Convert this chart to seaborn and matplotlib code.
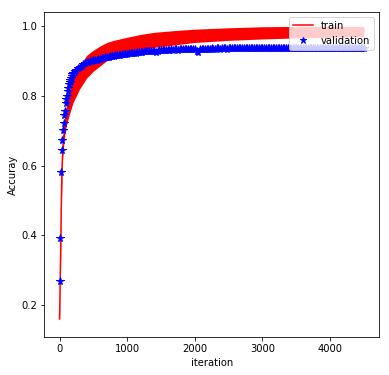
import matplotlib
matplotlib.use("Agg")
import matplotlib.pyplot as plt
from matplotlib.lines import Line2D
import seaborn as sns
import pandas as pd

# ---- data ----
# training accuracy: noisy band, lower / upper envelope at knots
train_iter = [0, 5, 10, 15, 20, 25, 30, 35, 40, 50, 60, 80, 100, 130, 160, 200,
              250, 300, 400, 500, 600, 700, 800, 1000, 1200, 1400, 1700, 2000,
              2500, 3000, 3500, 4000, 4500]
train_lo = [0.152, 0.19, 0.25, 0.31, 0.37, 0.44, 0.50, 0.55, 0.59, 0.63, 0.655,
            0.69, 0.715, 0.735, 0.755, 0.78, 0.80, 0.82, 0.85, 0.87, 0.885,
            0.90, 0.905, 0.915, 0.93, 0.938, 0.945, 0.952, 0.958, 0.962,
            0.965, 0.967, 0.969]
train_hi = [0.17, 0.23, 0.30, 0.36, 0.42, 0.50, 0.56, 0.60, 0.63, 0.67, 0.70,
            0.74, 0.77, 0.80, 0.825, 0.85, 0.87, 0.885, 0.915, 0.93, 0.942,
            0.952, 0.958, 0.967, 0.975, 0.981, 0.986, 0.990, 0.994, 0.997,
            0.998, 0.998, 0.998]

# validation accuracy (stars)
val_iter = list(range(0, 201, 10)) + list(range(225, 4501, 25))
val_acc = [0.269, 0.393, 0.582, 0.645, 0.673, 0.702, 0.723, 0.745, 0.757, 0.778,
           0.790, 0.800, 0.812, 0.822, 0.832, 0.840, 0.846, 0.851, 0.856, 0.861,
           0.866,
           0.870, 0.874, 0.878, 0.882,
           0.886, 0.889, 0.892, 0.895,
           0.897, 0.898, 0.900, 0.901,
           0.902, 0.903, 0.904, 0.905,
           0.907, 0.908, 0.909, 0.910,
           0.911, 0.912, 0.913, 0.914,
           0.915, 0.916, 0.916, 0.917,
           0.918, 0.919, 0.919, 0.920,
           0.921, 0.922, 0.922, 0.923,
           0.923, 0.924, 0.925, 0.925,
           0.926, 0.927, 0.927, 0.927,
           0.928, 0.928, 0.929, 0.929,
           0.925, 0.929, 0.930, 0.930,
           0.930, 0.931, 0.931, 0.931,
           0.931, 0.932, 0.931, 0.932,
           0.932, 0.931, 0.932, 0.932,
           0.933, 0.932, 0.933, 0.933,
           0.932, 0.933, 0.933, 0.933,
           0.928, 0.926, 0.933, 0.933,
           0.934, 0.933, 0.934, 0.934,
           0.934, 0.935, 0.934, 0.934,
           0.935, 0.935, 0.934, 0.935,
           0.935, 0.935, 0.934, 0.935,
           0.935, 0.936, 0.935, 0.936,
           0.935, 0.936, 0.936, 0.935,
           0.936, 0.935, 0.936, 0.936,
           0.935, 0.936, 0.936, 0.936,
           0.936, 0.935, 0.936, 0.936,
           0.936, 0.936, 0.935, 0.936,
           0.936, 0.937, 0.936, 0.936,
           0.935, 0.936, 0.936, 0.937,
           0.936, 0.936, 0.937, 0.936,
           0.936, 0.937, 0.936, 0.936,
           0.937, 0.936, 0.936, 0.935,
           0.936, 0.937, 0.936, 0.936,
           0.937, 0.936, 0.937, 0.936,
           0.936, 0.937, 0.936, 0.937,
           0.936, 0.936, 0.937, 0.936,
           0.937, 0.936, 0.936, 0.937,
           0.936, 0.937, 0.936, 0.936,
           0.937, 0.936, 0.937, 0.936,
           0.936, 0.937, 0.936, 0.936,
           0.935, 0.936, 0.937, 0.936]

xticks = [0, 1000, 2000, 3000, 4000]
yticks = [0.2, 0.4, 0.6, 0.8, 1.0]

# ---- long-form tables ----
train_df = pd.DataFrame({
    "iteration": train_iter + train_iter,
    "acc": train_lo + train_hi,
})
n = min(len(val_iter), len(val_acc))
val_df = pd.DataFrame({"iteration": val_iter[:n], "acc": val_acc[:n]})

plt.rcParams["font.family"] = ["DejaVu Sans"]
plt.rcParams["font.size"] = 10

fig = plt.figure(figsize=(389 / 72, 375 / 72), dpi=72)
ax = fig.add_axes([0.1139, 0.1005, 0.975 - 0.1139, 0.9688 - 0.1005])

sns.lineplot(data=train_df, x="iteration", y="acc", ax=ax, color="red",
             linewidth=1.5, estimator="mean",
             errorbar=lambda v: (v.min(), v.max()),
             err_kws={"alpha": 1.0, "linewidth": 0},
             legend=False)
sns.lineplot(data=val_df, x="iteration", y="acc", ax=ax, color="blue",
             marker="*", linestyle="", markersize=8,
             markeredgecolor="blue", markeredgewidth=1, legend=False)

ax.set_xlim(-225, 4727)
ax.set_ylim(0.1086, 1.04)
ax.set_xticks(xticks)
ax.set_yticks(yticks)
ax.set_xlabel("iteration")
ax.set_ylabel("Accuray")

handles = [Line2D([], [], color="red", linewidth=1.5),
           Line2D([], [], color="blue", marker="*", linestyle="",
                  markersize=7)]
ax.legend(handles, ["train", "validation"], loc="upper right")

fig.savefig("out.png", dpi=72)
